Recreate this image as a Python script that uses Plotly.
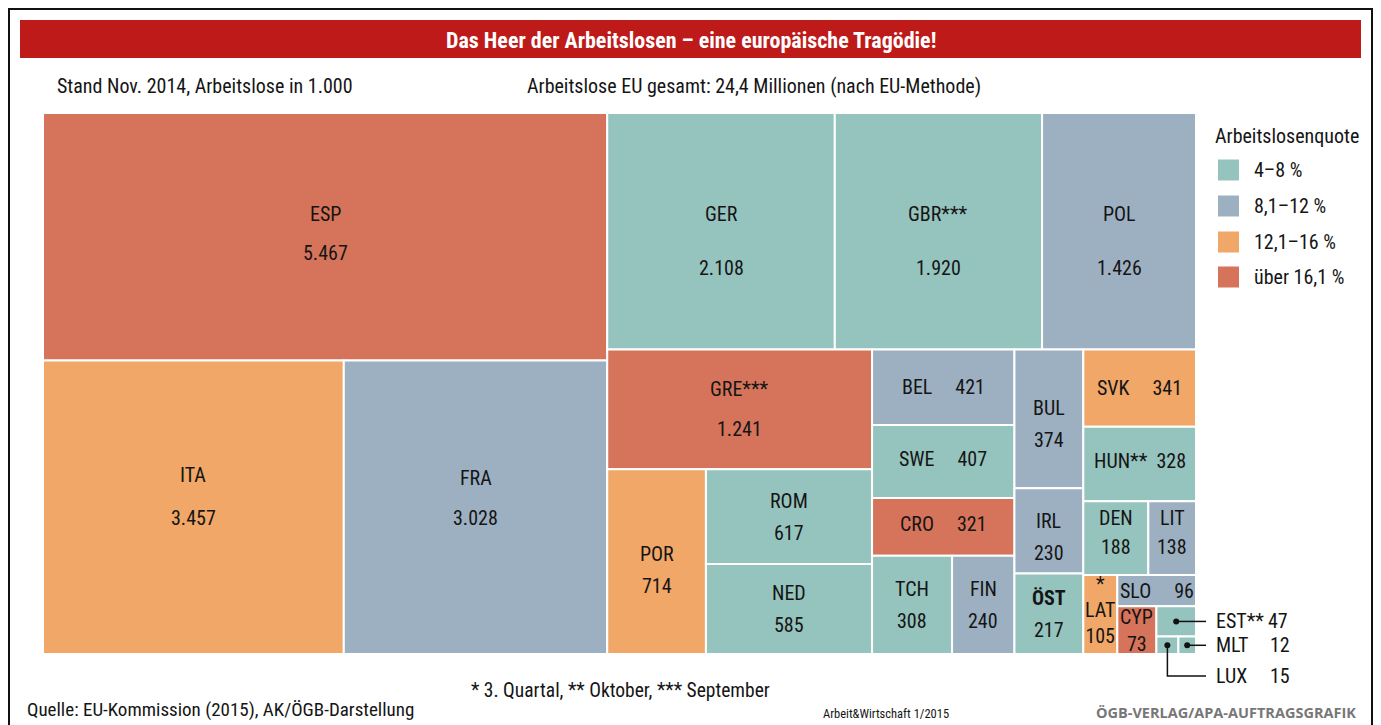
import plotly.graph_objects as go

# ---------------- data ----------------
codes = ["ESP", "ITA", "FRA", "GER", "GBR", "POL", "GRE", "POR", "ROM", "NED",
         "BEL", "SWE", "CRO", "TCH", "FIN", "BUL", "IRL", "ÖST", "SVK", "HUN",
         "DEN", "LIT", "LAT", "SLO", "CYP", "EST", "LUX", "MLT"]
names = ["ESP", "ITA", "FRA", "GER", "GBR***", "POL", "GRE***", "POR", "ROM", "NED",
         "BEL", "SWE", "CRO", "TCH", "FIN", "BUL", "IRL", "<b>ÖST</b>", "SVK", "HUN**",
         "DEN", "LIT", "*<br>LAT", "SLO", "CYP", "EST**", "LUX", "MLT"]
values = [5467, 3457, 3028, 2108, 1920, 1426, 1241, 714, 617, 585,
          421, 407, 321, 308, 240, 374, 230, 217, 341, 328,
          188, 138, 105, 96, 73, 47, 15, 12]
# unemployment rate class: 0 = 4-8 %, 1 = 8,1-12 %, 2 = 12,1-16 %, 3 = über 16,1 %
rate_class = [3, 2, 1, 0, 0, 1, 3, 2, 0, 0,
              1, 0, 3, 0, 1, 1, 1, 0, 2, 0,
              0, 1, 2, 1, 3, 0, 0, 0]
legend_labels = ["4–8 %", "8,1–12 %", "12,1–16 %", "über 16,1 %"]

# tiling structure (h = side by side, v = stacked)
tree = ("h", [
    ("v", ["ESP", ("h", ["ITA", "FRA"])]),
    ("v", [
        ("h", ["GER", "GBR", "POL"]),
        ("h", [
            ("v", ["GRE", ("h", ["POR", ("v", ["ROM", "NED"])])]),
            ("v", ["BEL", "SWE", "CRO", ("h", ["TCH", "FIN"])]),
            ("v", ["BUL", "IRL", "ÖST"]),
            ("v", ["SVK", "HUN", ("h", ["DEN", "LIT"]),
                   ("h", ["LAT", ("v", ["SLO", ("h", ["CYP", ("v", ["EST", ("h", ["LUX", "MLT"])])])])])]),
        ]),
    ]),
])

# ---------------- style ----------------
colors = ["#95C3BD", "#9DB0C2", "#F0A767", "#D5745A"]
FONT = "Roboto Condensed, DejaVu Sans Condensed, sans-serif"
TXT = "#151515"
W, H = 1381, 725
OFF = 8  # page body margin
X0, Y0, X1, Y1 = 43, 113, 1196, 654

val = dict(zip(codes, values))
idx = {c: i for i, c in enumerate(codes)}


def total(node):
    if isinstance(node, str):
        return val[node]
    return sum(total(c) for c in node[1])


rects = {}


def layout(node, x0, y0, x1, y1):
    if isinstance(node, str):
        rects[node] = (x0, y0, x1, y1)
        return
    d, kids = node
    t = total(node)
    pos = x0 if d == "h" else y0
    for k in kids:
        frac = total(k) / t
        if d == "h":
            w = (x1 - x0) * frac
            layout(k, pos, y0, pos + w, y1)
        else:
            w = (y1 - y0) * frac
            layout(k, x0, pos, x1, pos + w)
        pos += w


layout(tree, X0, Y0, X1, Y1)


def fmt(v):
    return f"{v:,}".replace(",", ".")


fig = go.Figure()
shapes = []
ann = []

# frame and title banner
shapes.append(dict(type="rect", x0=9, y0=9, x1=1372, y1=760, line=dict(color="#111", width=2),
                   fillcolor="rgba(0,0,0,0)", layer="below"))
shapes.append(dict(type="rect", x0=20, y0=20, x1=1361, y1=58, line=dict(width=0),
                   fillcolor="#BE1A1A", layer="below"))
ann.append(dict(x=691, y=40, text="<b>Das Heer der Arbeitslosen – eine europäische Tragödie!</b>",
                font=dict(family=FONT, size=22, color="white")))

sub = dict(family=FONT, size=20, color=TXT)
foot = dict(family=FONT, size=19.5, color=TXT)
ann.append(dict(x=55, y=86, xanchor="left", text="Stand Nov. 2014, Arbeitslose in 1.000", font=sub))
ann.append(dict(x=525, y=86, xanchor="left", text="Arbeitslose EU gesamt: 24,4 Millionen (nach EU-Methode)", font=sub))

# tiles
for c in codes:
    x0, y0, x1, y1 = rects[c]
    shapes.append(dict(type="rect", x0=x0, y0=y0, x1=x1, y1=y1,
                       fillcolor=colors[rate_class[idx[c]]], line=dict(color="white", width=2),
                       layer="below"))

inline = {"BEL", "SWE", "CRO", "SVK", "HUN", "SLO"}
outside = {"EST", "MLT", "LUX"}
gap = {"ESP": 39, "ITA": 43, "FRA": 40, "GER": 54, "GBR": 54, "POL": 54,
       "GRE": 40, "DEN": 29, "LIT": 29, "CYP": 27}
dy = {"ESP": -3, "GER": 10, "GBR": 10, "POL": 10, "ITA": -11, "FRA": -9,
      "POR": 8, "BUL": 5, "IRL": 6, "DEN": -6, "LIT": -6, "SWE": -3, "CRO": -3, "HUN": -3}
lab = dict(family=FONT, size=20, color=TXT)

for c in codes:
    x0, y0, x1, y1 = rects[c]
    cx, cy = (x0 + x1) / 2, (y0 + y1) / 2 + dy.get(c, 0)
    nm, v = names[idx[c]], fmt(val[c])
    if c in outside:
        continue
    if c in inline:
        sp = "\u00a0" * (2 if c == "HUN" else 5)
        ann.append(dict(x=cx, y=cy, text=nm + sp + v, font=lab))
    elif c == "LAT":
        ann.append(dict(x=cx, y=cy - 5, text=nm + "<br>" + v, font=lab))
    else:
        g = gap.get(c, 32)
        ann.append(dict(x=cx, y=cy - g / 2, text=nm, font=lab))
        ann.append(dict(x=cx, y=cy + g / 2, text=v, font=lab))

# outside labels with leader lines
lead_x = X1 + 10
text_x = X1 + 18
val_x = X1 + 72
dots_x, dots_y = [], []
for c in ["EST", "MLT", "LUX"]:
    x0, y0, x1, y1 = rects[c]
    cx, cy = (x0 + x1) / 2, (y0 + y1) / 2
    dots_x.append(cx)
    dots_y.append(cy)
    if c == "LUX":
        ly = Y1 + 22
        fig.add_trace(go.Scatter(x=[cx, cx, lead_x], y=[cy, ly, ly], mode="lines",
                                 line=dict(color="#111", width=1.5), hoverinfo="skip"))
    else:
        ly = cy
        fig.add_trace(go.Scatter(x=[cx, lead_x], y=[cy, cy], mode="lines",
                                 line=dict(color="#111", width=1.5), hoverinfo="skip"))
    ann.append(dict(x=text_x, y=ly, xanchor="left", text=names[idx[c]], font=lab))
    ann.append(dict(x=val_x - (2 if c == "EST" else 0), y=ly, xanchor="left", text=fmt(val[c]), font=lab))
fig.add_trace(go.Scatter(x=dots_x, y=dots_y, mode="markers",
                         marker=dict(color="#111", size=6), hoverinfo="skip"))

# legend
ann.append(dict(x=1213, y=136, xanchor="left", text="Arbeitslosenquote", font=lab))
leg_y = [170, 206, 242, 277]
for i, t in enumerate(legend_labels):
    shapes.append(dict(type="rect", x0=1218, x1=1239, y0=leg_y[i] - 10.5, y1=leg_y[i] + 10.5,
                       fillcolor=colors[i], line=dict(width=0), layer="below"))
    ann.append(dict(x=1252, y=leg_y[i], xanchor="left", text=t, font=lab))

# footnotes
ann.append(dict(x=620, y=690, text="* 3. Quartal, ** Oktober, *** September", font=foot))
ann.append(dict(x=25, y=709, xanchor="left", text="Quelle: EU-Kommission (2015), AK/ÖGB-Darstellung",
                font=dict(family=FONT, size=19, color=TXT)))
ann.append(dict(x=886, y=713, text="Arbeit&Wirtschaft 1/2015", font=dict(family=FONT, size=12.5, color=TXT)))
ann.append(dict(x=1358, y=712, xanchor="right", text="<b>ÖGB-VERLAG/APA-AUFTRAGSGRAFIK</b>",
                font=dict(family="Open Sans, Liberation Sans, sans-serif", size=14.5, color="#777777")))

for a in ann:
    a.setdefault("xanchor", "center")
    a.update(xref="x", yref="y", showarrow=False, yanchor="middle")

fig.update_layout(
    width=W - OFF, height=H - OFF, margin=dict(l=0, r=0, t=0, b=0),
    paper_bgcolor="white", plot_bgcolor="white", showlegend=False,
    xaxis=dict(range=[OFF, W], visible=False, fixedrange=True),
    yaxis=dict(range=[H, OFF], visible=False, fixedrange=True),
    shapes=shapes, annotations=ann,
)
fig.write_html("out.html")
